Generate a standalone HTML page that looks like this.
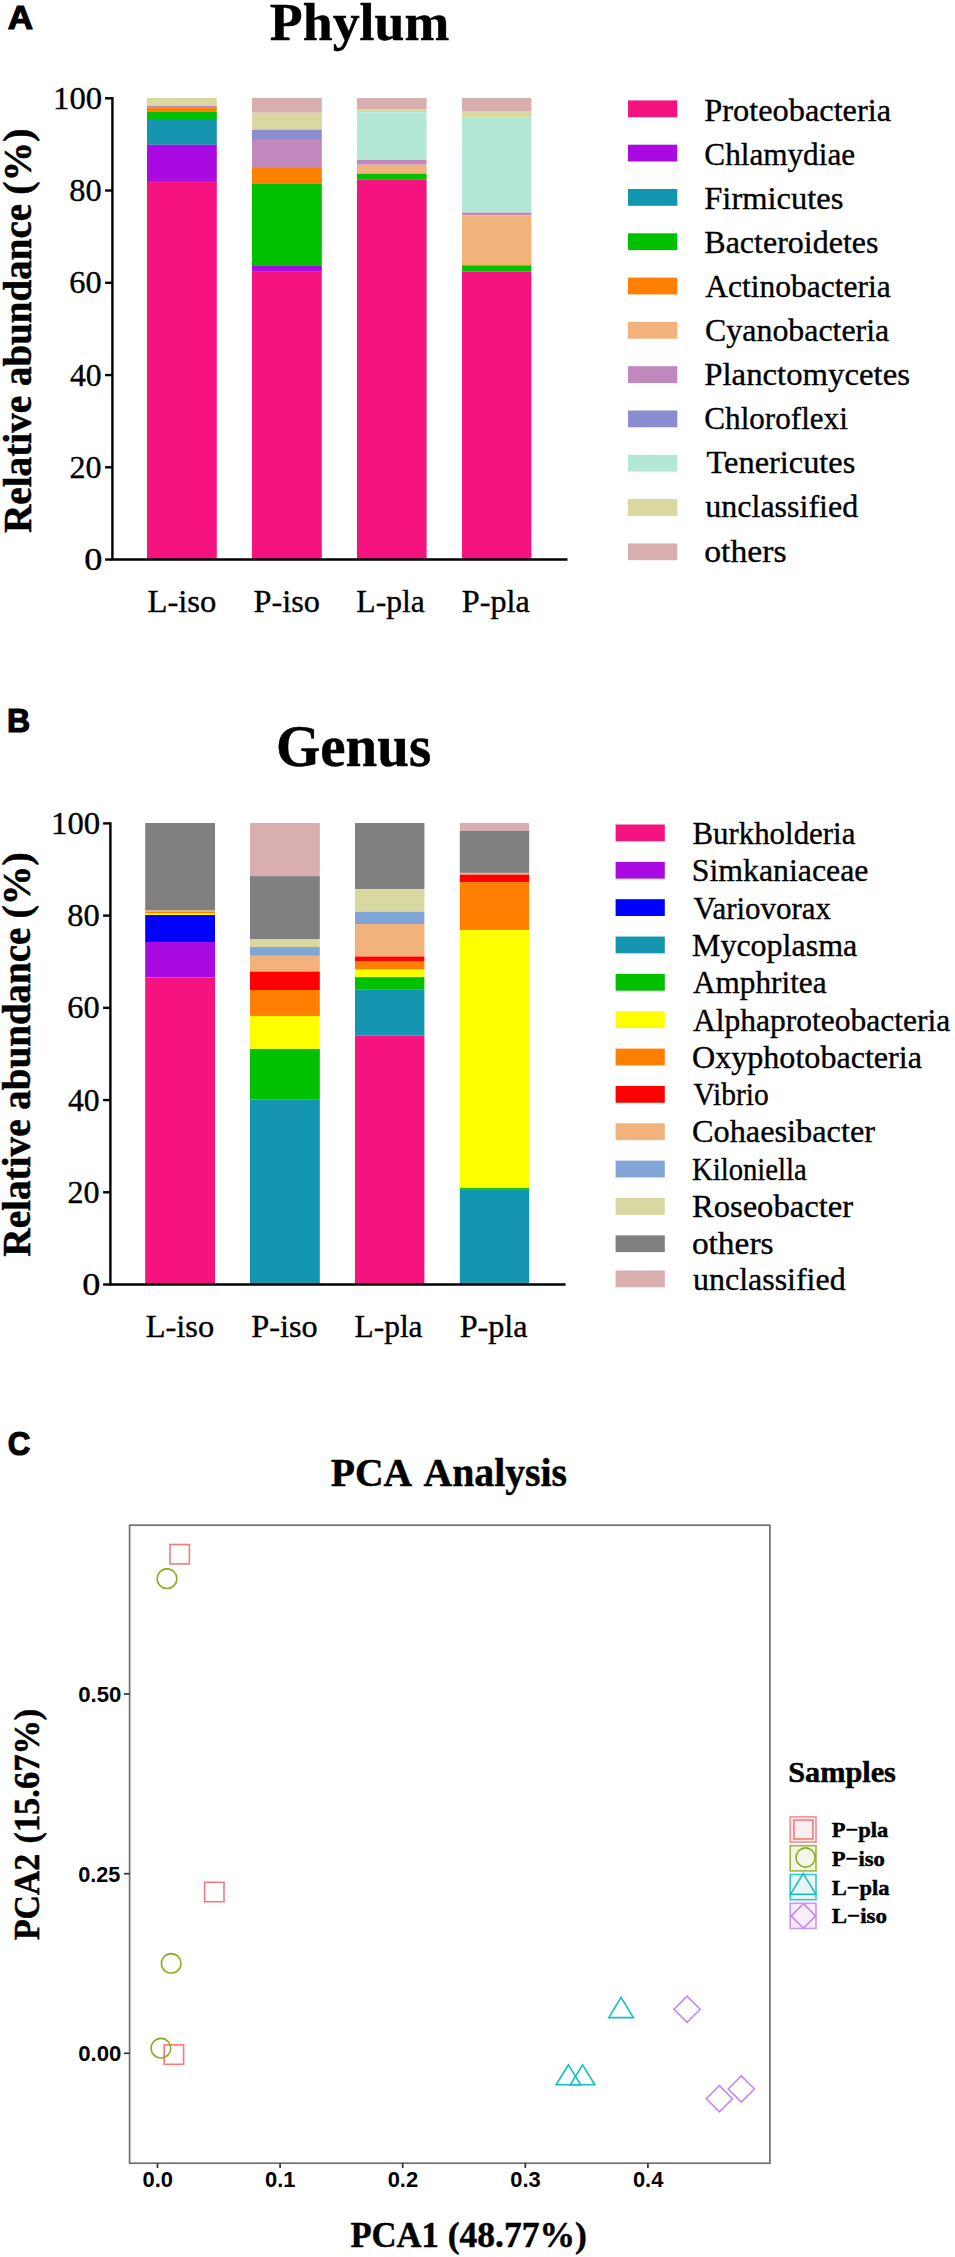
<!DOCTYPE html>
<html lang="en"><head><meta charset="utf-8"><title>Figure</title>
<style>html,body{margin:0;padding:0;background:#fff}svg{display:block}text{fill:#000}</style>
</head><body>
<svg width="955" height="2257" viewBox="0 0 955 2257">
<rect width="955" height="2257" fill="#fff"/>
<text x="7.75" y="28.5" font-size="33.5" font-family="Liberation Sans, sans-serif" font-weight="bold" textLength="25.3" lengthAdjust="spacingAndGlyphs" stroke="#000" stroke-width="1.2">A</text>
<text x="269.89" y="39.8" font-size="53" font-family="Liberation Serif, serif" font-weight="bold" textLength="179.33" lengthAdjust="spacingAndGlyphs" stroke="#000" stroke-width="0.45">Phylum</text>
<rect x="147" y="98" width="69.8" height="8.0" fill="#D8D8A0"/>
<rect x="147" y="106" width="69.8" height="1.9" fill="#C088BC"/>
<rect x="147" y="107.9" width="69.8" height="4.0" fill="#FF7F00"/>
<rect x="147" y="111.9" width="69.8" height="8.1" fill="#00C000"/>
<rect x="147" y="120" width="69.8" height="24.8" fill="#1496B1"/>
<rect x="147" y="144.8" width="69.8" height="36.2" fill="#A90AE2"/>
<rect x="147" y="181" width="69.8" height="378.5" fill="#F5147F"/>
<rect x="252" y="98" width="69.8" height="14.7" fill="#D8AEAE"/>
<rect x="252" y="112.7" width="69.8" height="17.0" fill="#D8D8A0"/>
<rect x="252" y="129.7" width="69.8" height="9.3" fill="#8A8ED0"/>
<rect x="252" y="139" width="69.8" height="29.0" fill="#C088BC"/>
<rect x="252" y="168" width="69.8" height="15.4" fill="#FF7F00"/>
<rect x="252" y="183.4" width="69.8" height="82.6" fill="#00C000"/>
<rect x="252" y="266" width="69.8" height="5.8" fill="#A90AE2"/>
<rect x="252" y="271.8" width="69.8" height="287.7" fill="#F5147F"/>
<rect x="357" y="98" width="69.6" height="11.4" fill="#D8AEAE"/>
<rect x="357" y="109.4" width="69.6" height="2.8" fill="#D8D8A0"/>
<rect x="357" y="112.2" width="69.6" height="47.8" fill="#B4E8D6"/>
<rect x="357" y="160" width="69.6" height="4.7" fill="#C088BC"/>
<rect x="357" y="164.7" width="69.6" height="9.0" fill="#F2B27C"/>
<rect x="357" y="173.7" width="69.6" height="5.6" fill="#00C000"/>
<rect x="357" y="179.3" width="69.6" height="380.2" fill="#F5147F"/>
<rect x="462" y="98" width="69.4" height="13.0" fill="#D8AEAE"/>
<rect x="462" y="111" width="69.4" height="6.7" fill="#D8D8A0"/>
<rect x="462" y="117.7" width="69.4" height="94.9" fill="#B4E8D6"/>
<rect x="462" y="212.6" width="69.4" height="2.8" fill="#C088BC"/>
<rect x="462" y="215.4" width="69.4" height="49.1" fill="#F2B27C"/>
<rect x="462" y="264.5" width="69.4" height="1.0" fill="#FF7F00"/>
<rect x="462" y="265.5" width="69.4" height="6.1" fill="#00C000"/>
<rect x="462" y="271.6" width="69.4" height="287.9" fill="#F5147F"/>
<path d="M112.4 97.1V560.7M111.2 559.5H567.5" stroke="#000" stroke-width="2.4" fill="none"/>
<path d="M105.10000000000001 98.3H112.4" stroke="#000" stroke-width="2.4"/>
<text x="53.14" y="108.9" font-size="31" font-family="Liberation Serif, serif" textLength="49.05" lengthAdjust="spacingAndGlyphs" stroke="#000" stroke-width="0.35">100</text>
<path d="M105.10000000000001 190.55H112.4" stroke="#000" stroke-width="2.4"/>
<text x="69.26" y="201.15" font-size="31" font-family="Liberation Serif, serif" textLength="32.39" lengthAdjust="spacingAndGlyphs" stroke="#000" stroke-width="0.35">80</text>
<path d="M105.10000000000001 282.8H112.4" stroke="#000" stroke-width="2.4"/>
<text x="69.26" y="293.4" font-size="31" font-family="Liberation Serif, serif" textLength="32.39" lengthAdjust="spacingAndGlyphs" stroke="#000" stroke-width="0.35">60</text>
<path d="M105.10000000000001 375.05H112.4" stroke="#000" stroke-width="2.4"/>
<text x="70.0" y="385.65" font-size="31" font-family="Liberation Serif, serif" textLength="31.62" lengthAdjust="spacingAndGlyphs" stroke="#000" stroke-width="0.35">40</text>
<path d="M105.10000000000001 467.3H112.4" stroke="#000" stroke-width="2.4"/>
<text x="69.57" y="477.9" font-size="31" font-family="Liberation Serif, serif" textLength="32.07" lengthAdjust="spacingAndGlyphs" stroke="#000" stroke-width="0.35">20</text>
<path d="M105.10000000000001 559.55H112.4" stroke="#000" stroke-width="2.4"/>
<text x="84.23" y="570.15" font-size="31" font-family="Liberation Serif, serif" textLength="18.12" lengthAdjust="spacingAndGlyphs" stroke="#000" stroke-width="0.35">0</text>
<text x="147.45" y="611.7" font-size="31" font-family="Liberation Serif, serif" textLength="68.97" lengthAdjust="spacingAndGlyphs" stroke="#000" stroke-width="0.35">L-iso</text>
<text x="253.46" y="611.7" font-size="31" font-family="Liberation Serif, serif" textLength="66.42" lengthAdjust="spacingAndGlyphs" stroke="#000" stroke-width="0.35">P-iso</text>
<text x="356.38" y="611.7" font-size="31" font-family="Liberation Serif, serif" textLength="68.36" lengthAdjust="spacingAndGlyphs" stroke="#000" stroke-width="0.35">L-pla</text>
<text x="461.86" y="611.7" font-size="31" font-family="Liberation Serif, serif" textLength="67.89" lengthAdjust="spacingAndGlyphs" stroke="#000" stroke-width="0.35">P-pla</text>
<text transform="translate(30.7,0) rotate(-90)" font-size="39.5" font-family="Liberation Serif, serif" font-weight="bold" stroke="#000" stroke-width="0.5"><tspan x="-533.09" textLength="137.29" lengthAdjust="spacingAndGlyphs">Relative</tspan> <tspan x="-386.09" textLength="182.08" lengthAdjust="spacingAndGlyphs">abundance</tspan> <tspan x="-194.81" textLength="66.24" lengthAdjust="spacingAndGlyphs">(%)</tspan></text>
<rect x="628" y="100.4" width="49.3" height="16.8" fill="#F5147F"/>
<text x="704.29" y="120.5" font-size="32" font-family="Liberation Serif, serif" textLength="186.82" lengthAdjust="spacingAndGlyphs" stroke="#000" stroke-width="0.35">Proteobacteria</text>
<rect x="628" y="144.7" width="49.3" height="16.8" fill="#A90AE2"/>
<text x="704.32" y="164.6" font-size="32" font-family="Liberation Serif, serif" textLength="150.78" lengthAdjust="spacingAndGlyphs" stroke="#000" stroke-width="0.35">Chlamydiae</text>
<rect x="628" y="189.0" width="49.3" height="16.8" fill="#1496B1"/>
<text x="704.28" y="208.7" font-size="32" font-family="Liberation Serif, serif" textLength="139.21" lengthAdjust="spacingAndGlyphs" stroke="#000" stroke-width="0.35">Firmicutes</text>
<rect x="628" y="233.3" width="49.3" height="16.8" fill="#00C000"/>
<text x="704.3" y="252.8" font-size="32" font-family="Liberation Serif, serif" textLength="174.14" lengthAdjust="spacingAndGlyphs" stroke="#000" stroke-width="0.35">Bacteroidetes</text>
<rect x="628" y="277.6" width="49.3" height="16.8" fill="#FF7F00"/>
<text x="705.3" y="296.9" font-size="32" font-family="Liberation Serif, serif" textLength="185.34" lengthAdjust="spacingAndGlyphs" stroke="#000" stroke-width="0.35">Actinobacteria</text>
<rect x="628" y="321.9" width="49.3" height="16.8" fill="#F2B27C"/>
<text x="705.1" y="341.0" font-size="32" font-family="Liberation Serif, serif" textLength="184.09" lengthAdjust="spacingAndGlyphs" stroke="#000" stroke-width="0.35">Cyanobacteria</text>
<rect x="628" y="366.2" width="49.3" height="16.8" fill="#C088BC"/>
<text x="704.28" y="385.1" font-size="32" font-family="Liberation Serif, serif" textLength="205.77" lengthAdjust="spacingAndGlyphs" stroke="#000" stroke-width="0.35">Planctomycetes</text>
<rect x="628" y="410.5" width="49.3" height="16.8" fill="#8A8ED0"/>
<text x="704.33" y="429.2" font-size="32" font-family="Liberation Serif, serif" textLength="143.49" lengthAdjust="spacingAndGlyphs" stroke="#000" stroke-width="0.35">Chloroflexi</text>
<rect x="628" y="454.8" width="49.3" height="16.8" fill="#B4E8D6"/>
<text x="706.6" y="473.3" font-size="32" font-family="Liberation Serif, serif" textLength="148.73" lengthAdjust="spacingAndGlyphs" stroke="#000" stroke-width="0.35">Tenericutes</text>
<rect x="628" y="499.1" width="49.3" height="16.8" fill="#D8D8A0"/>
<text x="705.3" y="517.4" font-size="32" font-family="Liberation Serif, serif" textLength="152.84" lengthAdjust="spacingAndGlyphs" stroke="#000" stroke-width="0.35">unclassified</text>
<rect x="628" y="543.4" width="49.3" height="16.8" fill="#D8AEAE"/>
<text x="704.25" y="561.5" font-size="32" font-family="Liberation Serif, serif" textLength="82.22" lengthAdjust="spacingAndGlyphs" stroke="#000" stroke-width="0.35">others</text>
<text x="6.89" y="731.5" font-size="33.5" font-family="Liberation Sans, sans-serif" font-weight="bold" textLength="23.17" lengthAdjust="spacingAndGlyphs" stroke="#000" stroke-width="1.2">B</text>
<text x="276.03" y="765.6" font-size="59.5" font-family="Liberation Serif, serif" font-weight="bold" textLength="155.06" lengthAdjust="spacingAndGlyphs" stroke="#000" stroke-width="0.45">Genus</text>
<rect x="145.2" y="823" width="69.8" height="87.6" fill="#808080"/>
<rect x="145.2" y="910.6" width="69.8" height="1.0" fill="#F2B27C"/>
<rect x="145.2" y="911.6" width="69.8" height="2.0" fill="#FF7F00"/>
<rect x="145.2" y="913.6" width="69.8" height="1.4" fill="#FFFF00"/>
<rect x="145.2" y="915" width="69.8" height="27.0" fill="#0000FF"/>
<rect x="145.2" y="942" width="69.8" height="35.4" fill="#A90AE2"/>
<rect x="145.2" y="977.4" width="69.8" height="307.1" fill="#F5147F"/>
<rect x="250" y="823" width="69.8" height="53.1" fill="#D8AEAE"/>
<rect x="250" y="876.1" width="69.8" height="63.3" fill="#808080"/>
<rect x="250" y="939.4" width="69.8" height="7.6" fill="#D8D8A0"/>
<rect x="250" y="947" width="69.8" height="8.8" fill="#82A5D8"/>
<rect x="250" y="955.8" width="69.8" height="15.8" fill="#F2B27C"/>
<rect x="250" y="971.6" width="69.8" height="18.4" fill="#FF0000"/>
<rect x="250" y="990" width="69.8" height="26.0" fill="#FF7F00"/>
<rect x="250" y="1016" width="69.8" height="33.0" fill="#FFFF00"/>
<rect x="250" y="1049" width="69.8" height="50.7" fill="#00C000"/>
<rect x="250" y="1099.7" width="69.8" height="184.8" fill="#1496B1"/>
<rect x="355" y="823" width="69.4" height="66.2" fill="#808080"/>
<rect x="355" y="889.2" width="69.4" height="22.6" fill="#D8D8A0"/>
<rect x="355" y="911.8" width="69.4" height="12.2" fill="#82A5D8"/>
<rect x="355" y="924" width="69.4" height="32.5" fill="#F2B27C"/>
<rect x="355" y="956.5" width="69.4" height="4.5" fill="#FF0000"/>
<rect x="355" y="961" width="69.4" height="8.6" fill="#FF7F00"/>
<rect x="355" y="969.6" width="69.4" height="7.5" fill="#FFFF00"/>
<rect x="355" y="977.1" width="69.4" height="12.1" fill="#00C000"/>
<rect x="355" y="989.2" width="69.4" height="46.5" fill="#1496B1"/>
<rect x="355" y="1035.7" width="69.4" height="248.8" fill="#F5147F"/>
<rect x="459.8" y="823" width="69.4" height="7.9" fill="#D8AEAE"/>
<rect x="459.8" y="830.9" width="69.4" height="42.0" fill="#808080"/>
<rect x="459.8" y="872.9" width="69.4" height="1.7" fill="#F2B27C"/>
<rect x="459.8" y="874.6" width="69.4" height="7.6" fill="#FF0000"/>
<rect x="459.8" y="882.2" width="69.4" height="47.8" fill="#FF7F00"/>
<rect x="459.8" y="930" width="69.4" height="258.0" fill="#FFFF00"/>
<rect x="459.8" y="1188" width="69.4" height="1.2" fill="#00C000"/>
<rect x="459.8" y="1189.2" width="69.4" height="95.3" fill="#1496B1"/>
<path d="M110.4 822.1999999999999V1285.7M109.2 1284.5H565.5" stroke="#000" stroke-width="2.4" fill="none"/>
<path d="M103.10000000000001 823.4H110.4" stroke="#000" stroke-width="2.4"/>
<text x="51.14" y="834.0" font-size="31" font-family="Liberation Serif, serif" textLength="49.05" lengthAdjust="spacingAndGlyphs" stroke="#000" stroke-width="0.35">100</text>
<path d="M103.10000000000001 915.62H110.4" stroke="#000" stroke-width="2.4"/>
<text x="67.26" y="926.22" font-size="31" font-family="Liberation Serif, serif" textLength="32.39" lengthAdjust="spacingAndGlyphs" stroke="#000" stroke-width="0.35">80</text>
<path d="M103.10000000000001 1007.84H110.4" stroke="#000" stroke-width="2.4"/>
<text x="67.26" y="1018.44" font-size="31" font-family="Liberation Serif, serif" textLength="32.39" lengthAdjust="spacingAndGlyphs" stroke="#000" stroke-width="0.35">60</text>
<path d="M103.10000000000001 1100.06H110.4" stroke="#000" stroke-width="2.4"/>
<text x="68.0" y="1110.66" font-size="31" font-family="Liberation Serif, serif" textLength="31.62" lengthAdjust="spacingAndGlyphs" stroke="#000" stroke-width="0.35">40</text>
<path d="M103.10000000000001 1192.28H110.4" stroke="#000" stroke-width="2.4"/>
<text x="67.57" y="1202.88" font-size="31" font-family="Liberation Serif, serif" textLength="32.07" lengthAdjust="spacingAndGlyphs" stroke="#000" stroke-width="0.35">20</text>
<path d="M103.10000000000001 1284.5H110.4" stroke="#000" stroke-width="2.4"/>
<text x="82.23" y="1295.1" font-size="31" font-family="Liberation Serif, serif" textLength="18.12" lengthAdjust="spacingAndGlyphs" stroke="#000" stroke-width="0.35">0</text>
<text x="145.65" y="1336.7" font-size="31" font-family="Liberation Serif, serif" textLength="68.55" lengthAdjust="spacingAndGlyphs" stroke="#000" stroke-width="0.35">L-iso</text>
<text x="251.26" y="1336.7" font-size="31" font-family="Liberation Serif, serif" textLength="66.42" lengthAdjust="spacingAndGlyphs" stroke="#000" stroke-width="0.35">P-iso</text>
<text x="354.59" y="1336.7" font-size="31" font-family="Liberation Serif, serif" textLength="67.95" lengthAdjust="spacingAndGlyphs" stroke="#000" stroke-width="0.35">L-pla</text>
<text x="459.66" y="1336.7" font-size="31" font-family="Liberation Serif, serif" textLength="67.89" lengthAdjust="spacingAndGlyphs" stroke="#000" stroke-width="0.35">P-pla</text>
<text transform="translate(30.3,0) rotate(-90)" font-size="39.5" font-family="Liberation Serif, serif" font-weight="bold" stroke="#000" stroke-width="0.5"><tspan x="-1256.69" textLength="137.29" lengthAdjust="spacingAndGlyphs">Relative</tspan> <tspan x="-1109.69" textLength="182.08" lengthAdjust="spacingAndGlyphs">abundance</tspan> <tspan x="-918.41" textLength="66.24" lengthAdjust="spacingAndGlyphs">(%)</tspan></text>
<rect x="615.6" y="824.5" width="49.2" height="16.8" fill="#F5147F"/>
<text x="692.4" y="844.0" font-size="31" font-family="Liberation Serif, serif" textLength="162.97" lengthAdjust="spacingAndGlyphs" stroke="#000" stroke-width="0.35">Burkholderia</text>
<rect x="615.6" y="861.85" width="49.2" height="16.8" fill="#A90AE2"/>
<text x="691.75" y="881.3" font-size="31" font-family="Liberation Serif, serif" textLength="176.62" lengthAdjust="spacingAndGlyphs" stroke="#000" stroke-width="0.35">Simkaniaceae</text>
<rect x="615.6" y="899.2" width="49.2" height="16.8" fill="#0000FF"/>
<text x="693.5" y="918.6" font-size="31" font-family="Liberation Serif, serif" textLength="137.53" lengthAdjust="spacingAndGlyphs" stroke="#000" stroke-width="0.35">Variovorax</text>
<rect x="615.6" y="936.55" width="49.2" height="16.8" fill="#1496B1"/>
<text x="691.97" y="955.9" font-size="31" font-family="Liberation Serif, serif" textLength="165.28" lengthAdjust="spacingAndGlyphs" stroke="#000" stroke-width="0.35">Mycoplasma</text>
<rect x="615.6" y="973.9" width="49.2" height="16.8" fill="#00C000"/>
<text x="693.0" y="993.2" font-size="31" font-family="Liberation Serif, serif" textLength="133.58" lengthAdjust="spacingAndGlyphs" stroke="#000" stroke-width="0.35">Amphritea</text>
<rect x="615.6" y="1011.25" width="49.2" height="16.8" fill="#FFFF00"/>
<text x="693.0" y="1030.5" font-size="31" font-family="Liberation Serif, serif" textLength="257.15" lengthAdjust="spacingAndGlyphs" stroke="#000" stroke-width="0.35">Alphaproteobacteria</text>
<rect x="615.6" y="1048.6" width="49.2" height="16.8" fill="#FF7F00"/>
<text x="691.96" y="1067.8" font-size="31" font-family="Liberation Serif, serif" textLength="230.03" lengthAdjust="spacingAndGlyphs" stroke="#000" stroke-width="0.35">Oxyphotobacteria</text>
<rect x="615.6" y="1085.95" width="49.2" height="16.8" fill="#FF0000"/>
<text x="693.5" y="1105.1" font-size="31" font-family="Liberation Serif, serif" textLength="75.33" lengthAdjust="spacingAndGlyphs" stroke="#000" stroke-width="0.35">Vibrio</text>
<rect x="615.6" y="1123.3" width="49.2" height="16.8" fill="#F2B27C"/>
<text x="691.96" y="1142.4" font-size="31" font-family="Liberation Serif, serif" textLength="183.06" lengthAdjust="spacingAndGlyphs" stroke="#000" stroke-width="0.35">Cohaesibacter</text>
<rect x="615.6" y="1160.65" width="49.2" height="16.8" fill="#82A5D8"/>
<text x="692.08" y="1179.7" font-size="31" font-family="Liberation Serif, serif" textLength="114.61" lengthAdjust="spacingAndGlyphs" stroke="#000" stroke-width="0.35">Kiloniella</text>
<rect x="615.6" y="1198.0" width="49.2" height="16.8" fill="#D8D8A0"/>
<text x="691.95" y="1217.0" font-size="31" font-family="Liberation Serif, serif" textLength="161.08" lengthAdjust="spacingAndGlyphs" stroke="#000" stroke-width="0.35">Roseobacter</text>
<rect x="615.6" y="1235.35" width="49.2" height="16.8" fill="#808080"/>
<text x="691.92" y="1254.3" font-size="31" font-family="Liberation Serif, serif" textLength="81.6" lengthAdjust="spacingAndGlyphs" stroke="#000" stroke-width="0.35">others</text>
<rect x="615.6" y="1270.5" width="49.2" height="16.8" fill="#D8AEAE"/>
<text x="693.0" y="1289.6" font-size="31" font-family="Liberation Serif, serif" textLength="152.68" lengthAdjust="spacingAndGlyphs" stroke="#000" stroke-width="0.35">unclassified</text>
<text x="7.87" y="1455.2" font-size="33.5" font-family="Liberation Sans, sans-serif" font-weight="bold" textLength="22.55" lengthAdjust="spacingAndGlyphs" stroke="#000" stroke-width="1.2">C</text>
<text y="1485.9" font-size="39.5" font-family="Liberation Serif, serif" font-weight="bold" stroke="#000" stroke-width="0.45"><tspan x="330.72" textLength="79.16" lengthAdjust="spacingAndGlyphs">PCA</tspan> <tspan x="423.5" textLength="143.59" lengthAdjust="spacingAndGlyphs">Analysis</tspan></text>
<rect x="129.6" y="1525.2" width="640.3" height="638.0" fill="none" stroke="#707070" stroke-width="1.7"/>
<path d="M124.0 1694.0H129.6" stroke="#333" stroke-width="1.7"/>
<text x="78.22" y="1701.8" font-size="22.7" font-family="Liberation Sans, sans-serif" font-weight="bold" textLength="43.12" lengthAdjust="spacingAndGlyphs">0.50</text>
<path d="M124.0 1873.7H129.6" stroke="#333" stroke-width="1.7"/>
<text x="78.25" y="1881.5" font-size="22.7" font-family="Liberation Sans, sans-serif" font-weight="bold" textLength="42.12" lengthAdjust="spacingAndGlyphs">0.25</text>
<path d="M124.0 2053.3H129.6" stroke="#333" stroke-width="1.7"/>
<text x="78.22" y="2061.1" font-size="22.7" font-family="Liberation Sans, sans-serif" font-weight="bold" textLength="43.12" lengthAdjust="spacingAndGlyphs">0.00</text>
<path d="M157.5 2163.2V2168.0" stroke="#333" stroke-width="1.7"/>
<text x="157.7" y="2186.9" font-size="22.7" font-family="Liberation Sans, sans-serif" font-weight="bold" text-anchor="middle" textLength="30.44" lengthAdjust="spacingAndGlyphs">0.0</text>
<path d="M280.1 2163.2V2168.0" stroke="#333" stroke-width="1.7"/>
<text x="280.3" y="2186.9" font-size="22.7" font-family="Liberation Sans, sans-serif" font-weight="bold" text-anchor="middle" textLength="30.44" lengthAdjust="spacingAndGlyphs">0.1</text>
<path d="M402.7 2163.2V2168.0" stroke="#333" stroke-width="1.7"/>
<text x="402.9" y="2186.9" font-size="22.7" font-family="Liberation Sans, sans-serif" font-weight="bold" text-anchor="middle" textLength="30.44" lengthAdjust="spacingAndGlyphs">0.2</text>
<path d="M525.3 2163.2V2168.0" stroke="#333" stroke-width="1.7"/>
<text x="525.5" y="2186.9" font-size="22.7" font-family="Liberation Sans, sans-serif" font-weight="bold" text-anchor="middle" textLength="30.44" lengthAdjust="spacingAndGlyphs">0.3</text>
<path d="M647.9 2163.2V2168.0" stroke="#333" stroke-width="1.7"/>
<text x="648.1" y="2186.9" font-size="22.7" font-family="Liberation Sans, sans-serif" font-weight="bold" text-anchor="middle" textLength="30.44" lengthAdjust="spacingAndGlyphs">0.4</text>
<text y="2246.5" font-size="36.5" font-family="Liberation Serif, serif" font-weight="bold" stroke="#000" stroke-width="0.45"><tspan x="350.45" textLength="88.5" lengthAdjust="spacingAndGlyphs">PCA1</tspan> <tspan x="447.75" textLength="139.13" lengthAdjust="spacingAndGlyphs">(48.77%)</tspan></text>
<text transform="translate(38.8,0) rotate(-90)" font-size="36.5" font-family="Liberation Serif, serif" font-weight="bold" stroke="#000" stroke-width="0.5"><tspan x="-1940.02" textLength="86.19" lengthAdjust="spacingAndGlyphs">PCA2</tspan> <tspan x="-1843.59" textLength="134.92" lengthAdjust="spacingAndGlyphs">(15.67%)</tspan></text>
<rect x="170.0" y="1544.5" width="19.4" height="19.4" fill="none" stroke="#F57A7E" stroke-width="1.6"/>
<rect x="204.6" y="1882.3" width="19.4" height="19.4" fill="none" stroke="#F57A7E" stroke-width="1.6"/>
<rect x="164.2" y="2044.9" width="19.4" height="19.4" fill="none" stroke="#F57A7E" stroke-width="1.6"/>
<circle cx="167" cy="1578.7" r="9.8" fill="none" stroke="#86AE1E" stroke-width="1.6"/>
<circle cx="171.2" cy="1963.4" r="9.8" fill="none" stroke="#86AE1E" stroke-width="1.6"/>
<circle cx="160.9" cy="2048.2" r="9.8" fill="none" stroke="#86AE1E" stroke-width="1.6"/>
<path d="M621.1 1997.4L633.4 2017.6H608.8Z" fill="none" stroke="#14C0BC" stroke-width="1.6"/>
<path d="M568.4 2064.8L580.7 2084.8H556.1Z" fill="none" stroke="#14C0BC" stroke-width="1.6"/>
<path d="M582.6 2064.8L594.9 2084.8H570.3Z" fill="none" stroke="#14C0BC" stroke-width="1.6"/>
<path d="M687.1 1996.2L700.2 2009.3L687.1 2022.4L674.0 2009.3Z" fill="none" stroke="#C586F5" stroke-width="1.6"/>
<path d="M719.4 2085.6L732.5 2098.7L719.4 2111.8L706.3 2098.7Z" fill="none" stroke="#C586F5" stroke-width="1.6"/>
<path d="M741.3 2075.9L754.4 2089L741.3 2102.1L728.2 2089Z" fill="none" stroke="#C586F5" stroke-width="1.6"/>
<text x="788.16" y="1781.8" font-size="29" font-family="Liberation Serif, serif" font-weight="bold" textLength="107.74" lengthAdjust="spacingAndGlyphs" stroke="#000" stroke-width="0.45">Samples</text>
<rect x="790.2" y="1816.9" width="25.8" height="25.2" fill="#FBEEF0" stroke="#F57A7E" stroke-width="1.6" stroke-opacity="0.85"/>
<rect x="793.9" y="1820.0" width="19.0" height="19.0" fill="none" stroke="#F57A7E" stroke-width="1.6"/>
<text x="831.8" y="1837.0" font-size="21.5" font-family="Liberation Serif, serif" font-weight="bold" textLength="56.58" lengthAdjust="spacingAndGlyphs" stroke="#000" stroke-width="0.45">P−pla</text>
<rect x="790.2" y="1845.7" width="25.8" height="25.2" fill="#F5F5EC" stroke="#86AE1E" stroke-width="1.6" stroke-opacity="0.85"/>
<circle cx="805.6" cy="1857.5" r="9.6" fill="none" stroke="#86AE1E" stroke-width="1.6"/>
<text x="831.8" y="1865.9" font-size="21.5" font-family="Liberation Serif, serif" font-weight="bold" textLength="53.01" lengthAdjust="spacingAndGlyphs" stroke="#000" stroke-width="0.45">P−iso</text>
<rect x="790.2" y="1874.5" width="25.8" height="25.2" fill="#E9F6F8" stroke="#14C0BC" stroke-width="1.6" stroke-opacity="0.85"/>
<path d="M803.2 1873.6L815.8 1894.2H790.6Z" fill="none" stroke="#14C0BC" stroke-width="1.6"/>
<text x="831.8" y="1894.8" font-size="21.5" font-family="Liberation Serif, serif" font-weight="bold" textLength="57.79" lengthAdjust="spacingAndGlyphs" stroke="#000" stroke-width="0.45">L−pla</text>
<rect x="790.2" y="1903.3" width="25.8" height="25.2" fill="#F7EDFB" stroke="#C586F5" stroke-width="1.6" stroke-opacity="0.85"/>
<path d="M803.4 1903.6L815.7 1915.9L803.4 1928.2L791.1 1915.9Z" fill="none" stroke="#C586F5" stroke-width="1.6"/>
<text x="831.8" y="1923.1" font-size="21.5" font-family="Liberation Serif, serif" font-weight="bold" textLength="55.13" lengthAdjust="spacingAndGlyphs" stroke="#000" stroke-width="0.45">L−iso</text>
</svg>
</body></html>
